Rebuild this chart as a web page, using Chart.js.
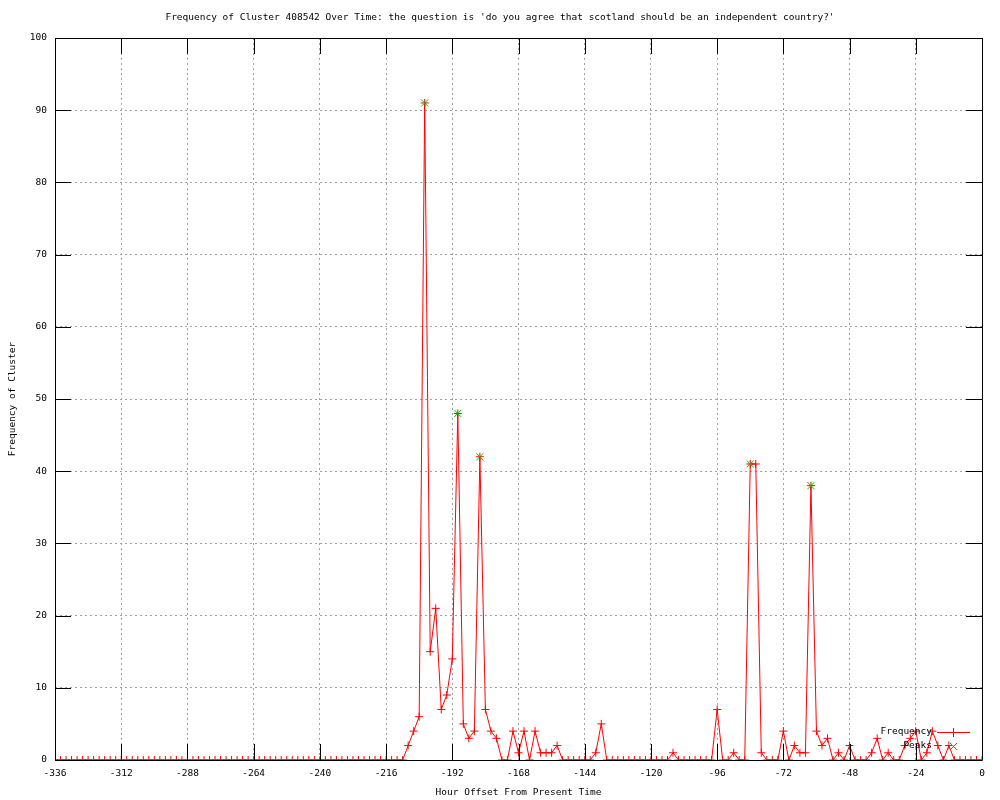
<!DOCTYPE html>
<html>
<head>
<meta charset="utf-8">
<script src="https://cdn.jsdelivr.net/npm/chart.js@4/dist/chart.umd.min.js"></script>
<style>
  html, body { margin: 0; padding: 0; background: #ffffff; }
</style>
</head>
<body>
<canvas id="graficoCluster" width="1000" height="800"></canvas>
<script>
// horas respecto al momento actual (cada 2 horas)
let horas = [
  -336, -334, -332, -330, -328, -326, -324, -322, -320, -318, -316, -314,
  -312, -310, -308, -306, -304, -302, -300, -298, -296, -294, -292, -290,
  -288, -286, -284, -282, -280, -278, -276, -274, -272, -270, -268, -266,
  -264, -262, -260, -258, -256, -254, -252, -250, -248, -246, -244, -242,
  -240, -238, -236, -234, -232, -230, -228, -226, -224, -222, -220, -218,
  -216, -214, -212, -210, -208, -206, -204, -202, -200, -198, -196, -194,
  -192, -190, -188, -186, -184, -182, -180, -178, -176, -174, -172, -170,
  -168, -166, -164, -162, -160, -158, -156, -154, -152, -150, -148, -146,
  -144, -142, -140, -138, -136, -134, -132, -130, -128, -126, -124, -122,
  -120, -118, -116, -114, -112, -110, -108, -106, -104, -102, -100, -98,
  -96, -94, -92, -90, -88, -86, -84, -82, -80, -78, -76, -74,
  -72, -70, -68, -66, -64, -62, -60, -58, -56, -54, -52, -50,
  -48, -46, -44, -42, -40, -38, -36, -34, -32, -30, -28, -26,
  -24, -22, -20, -18, -16, -14, -12, -10, -8, -6, -4, -2,
  0
];

// frecuencia del cluster en cada hora
let frecuencia = [
  0, 0, 0, 0, 0, 0, 0, 0, 0, 0, 0, 0,
  0, 0, 0, 0, 0, 0, 0, 0, 0, 0, 0, 0,
  0, 0, 0, 0, 0, 0, 0, 0, 0, 0, 0, 0,
  0, 0, 0, 0, 0, 0, 0, 0, 0, 0, 0, 0,
  0, 0, 0, 0, 0, 0, 0, 0, 0, 0, 0, 0,
  0, 0, 0, 0, 2, 4, 6, 91, 15, 21, 7, 9,
  14, 48, 5, 3, 4, 42, 7, 4, 3, 0, 0, 4,
  1, 4, 0, 4, 1, 1, 1, 2, 0, 0, 0, 0,
  0, 0, 1, 5, 0, 0, 0, 0, 0, 0, 0, 0,
  0, 0, 0, 0, 1, 0, 0, 0, 0, 0, 0, 0,
  7, 0, 0, 1, 0, 0, 41, 41, 1, 0, 0, 0,
  4, 0, 2, 1, 1, 38, 4, 2, 3, 0, 1, 0,
  2, 0, 0, 0, 1, 3, 0, 1, 0, 0, 2, 3,
  4, 0, 1, 4, 2, 0, 2, 0, 0, 0, 0, 0,
  0
];

// picos detectados
let horasPicos = [-202, -190, -182, -84, -62];
let valoresPicos = [91, 48, 42, 41, 38];

// ticks de los ejes
let ticksX = [-336, -312, -288, -264, -240, -216, -192, -168, -144, -120, -96, -72, -48, -24, 0];
let ticksY = [0, 10, 20, 30, 40, 50, 60, 70, 80, 90, 100];

let titulo = "Frequency of Cluster 408542 Over Time: the question is 'do you agree that scotland should be an independent country?'";
let tituloX = "Hour Offset From Present Time";
let tituloY = "Frequency of Cluster";

const fuente = '"DejaVu Sans Mono", "Liberation Mono", monospace';
const tamFuente = 9.5;
const rojo = '#ff0000';
const verde = '#00c000';
const largoTick = 16;

let puntosFrecuencia = horas.map((h, i) => ({ x: h, y: frecuencia[i] }));
let puntosPicos = horasPicos.map((h, i) => ({ x: h, y: valoresPicos[i] }));

// marco negro, ticks hacia adentro, textos y leyenda al estilo gnuplot
const estiloGnuplot = {
  id: 'estiloGnuplot',
  afterDatasetsDraw(chart) {
    const { ctx, chartArea: a, scales } = chart;
    ctx.save();
    ctx.strokeStyle = '#000';
    ctx.lineWidth = 1;
    ctx.beginPath();
    ctx.rect(a.left + 0.5, a.top + 0.5, a.right - a.left, a.bottom - a.top);
    ticksX.forEach(v => {
      let px = Math.round(scales.x.getPixelForValue(v)) + 0.5;
      ctx.moveTo(px, a.bottom);
      ctx.lineTo(px, a.bottom - largoTick);
      ctx.moveTo(px, a.top);
      ctx.lineTo(px, a.top + largoTick);
    });
    ticksY.forEach(v => {
      let py = Math.round(scales.y.getPixelForValue(v)) + 0.5;
      ctx.moveTo(a.left, py);
      ctx.lineTo(a.left + largoTick, py);
      ctx.moveTo(a.right, py);
      ctx.lineTo(a.right - largoTick, py);
    });
    ctx.stroke();
    ctx.restore();
  },
  afterDraw(chart) {
    const { ctx, chartArea: a } = chart;
    ctx.save();
    ctx.fillStyle = '#000';
    ctx.font = tamFuente + 'px ' + fuente;
    ctx.textBaseline = 'middle';

    // titulo
    ctx.textAlign = 'center';
    ctx.fillText(titulo, chart.width / 2, 18);
    ctx.fillText(tituloX, (a.left + a.right) / 2, 793);

    ctx.save();
    ctx.translate(13, (a.top + a.bottom) / 2);
    ctx.rotate(-Math.PI / 2);
    ctx.fillText(tituloY, 0, 0);
    ctx.restore();

    // leyenda
    ctx.textAlign = 'right';
    ctx.fillText('Frequency', 932, 732);
    ctx.fillText('Peaks', 932, 746);

    ctx.lineWidth = 1;
    ctx.strokeStyle = rojo;
    ctx.beginPath();
    ctx.moveTo(937, 732.5);
    ctx.lineTo(970, 732.5);
    ctx.moveTo(953.5, 728);
    ctx.lineTo(953.5, 737);
    ctx.stroke();

    ctx.strokeStyle = verde;
    ctx.beginPath();
    ctx.moveTo(950, 743);
    ctx.lineTo(957, 750);
    ctx.moveTo(957, 743);
    ctx.lineTo(950, 750);
    ctx.stroke();
    ctx.restore();
  }
};

let ctxGrafico = document.getElementById('graficoCluster');
let graficoCluster = new Chart(ctxGrafico, {
  type: 'line',
  data: {
    datasets: [
      {
        label: 'Frequency',
        data: puntosFrecuencia,
        borderColor: rojo,
        borderWidth: 1,
        tension: 0,
        pointStyle: 'cross',
        pointRadius: 4,
        pointBorderColor: rojo,
        pointBorderWidth: 1,
        order: 1
      },
      {
        label: 'Peaks',
        data: puntosPicos,
        showLine: false,
        pointStyle: 'crossRot',
        pointRadius: 5,
        pointBorderColor: verde,
        pointBorderWidth: 1,
        order: 0
      }
    ]
  },
  options: {
    responsive: false,
    animation: false,
    layout: { padding: { top: 38, right: 18, left: 0, bottom: 0 } },
    plugins: {
      legend: { display: false },
      title: { display: false },
      tooltip: { enabled: false }
    },
    scales: {
      x: {
        type: 'linear',
        min: -336,
        max: 0,
        afterFit: (escala) => { escala.height = 40; },
        afterBuildTicks: (escala) => { escala.ticks = ticksX.map(v => ({ value: v })); },
        ticks: {
          autoSkip: false,
          maxRotation: 0,
          padding: 8,
          color: '#000',
          font: { family: fuente, size: tamFuente }
        },
        grid: { color: '#a0a0a0', lineWidth: 1, drawTicks: false },
        border: { display: false, dash: [2, 3] }
      },
      y: {
        min: 0,
        max: 100,
        afterFit: (escala) => { escala.width = 55; },
        afterBuildTicks: (escala) => { escala.ticks = ticksY.map(v => ({ value: v })); },
        ticks: {
          padding: 8,
          color: '#000',
          font: { family: fuente, size: tamFuente }
        },
        grid: { color: '#a0a0a0', lineWidth: 1, drawTicks: false },
        border: { display: false, dash: [2, 3] }
      }
    }
  },
  plugins: [estiloGnuplot]
});
</script>
</body>
</html>
